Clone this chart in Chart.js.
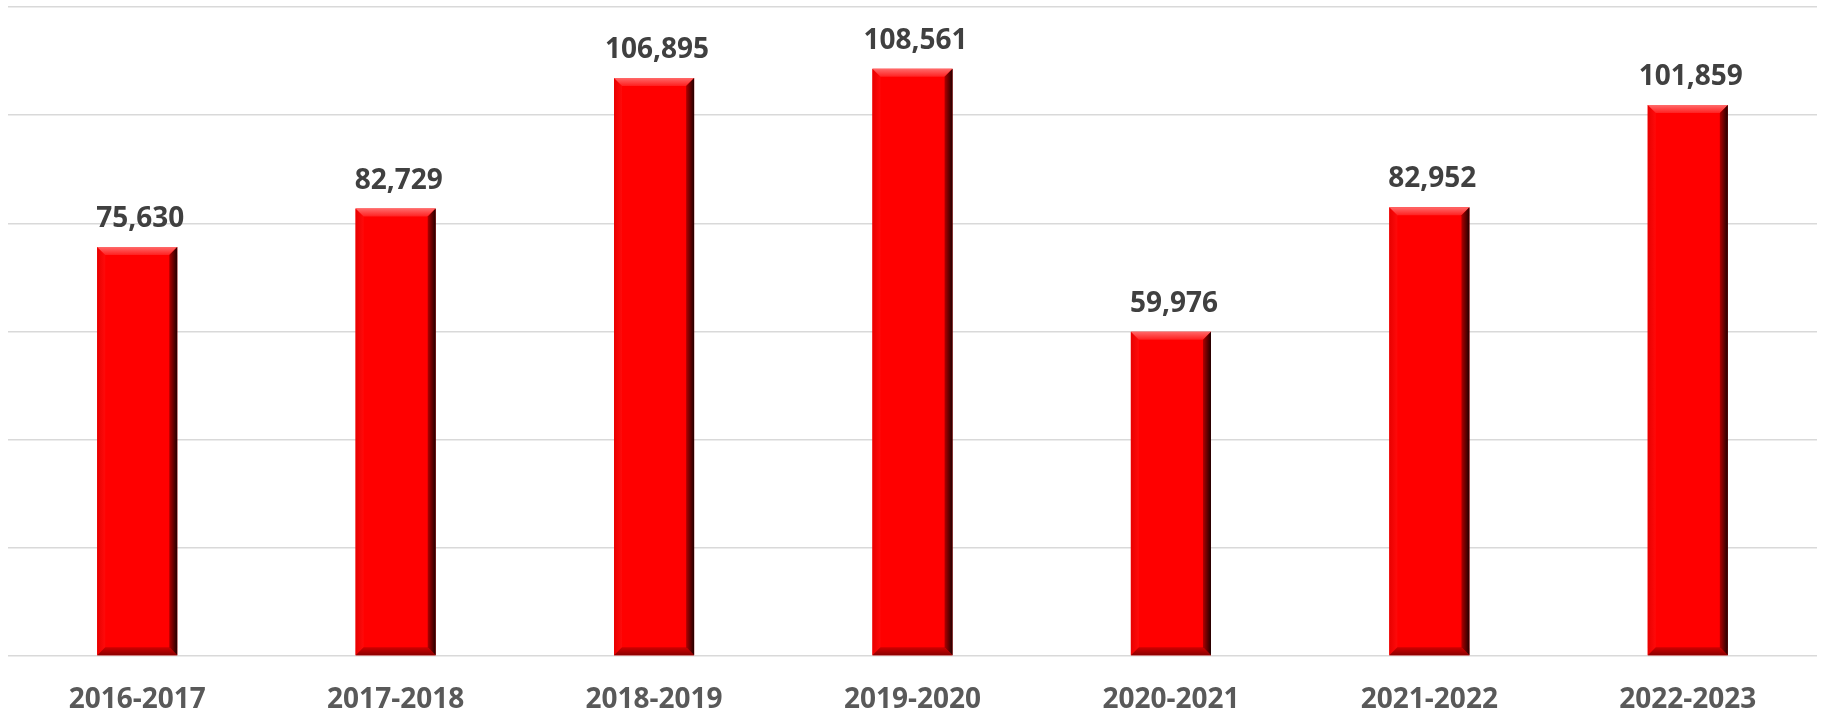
<!DOCTYPE html>
<html>
<head>
<meta charset="utf-8">
<script src="https://cdn.jsdelivr.net/npm/chart.js@4"></script>
<style>
  html, body { margin: 0; padding: 0; background: #ffffff; }
  #wrap { width: 1825px; height: 712px; position: relative; }
</style>
</head>
<body>
<div id="wrap"><canvas id="c"></canvas></div>
<script>
const categories = ['2016-2017', '2017-2018', '2018-2019', '2019-2020', '2020-2021', '2021-2022', '2022-2023'];
const values = [75630, 82729, 106895, 108561, 59976, 82952, 101859];
const yTicks = [0, 20000, 40000, 60000, 80000, 100000, 120000];

const FONT = '"Open Sans", "Liberation Sans", sans-serif';

const bevelPlugin = {
  id: 'bevel',
  afterDatasetsDraw(chart) {
    const ctx = chart.ctx;
    const meta = chart.getDatasetMeta(0);
    meta.data.forEach((bar, i) => {
      const w = bar.width;
      const l = bar.x - w / 2, r = bar.x + w / 2, t = bar.y, b = bar.base;
      const d = 8;
      ctx.save();
      // left bevel
      let g = ctx.createLinearGradient(l, 0, l + d, 0);
      g.addColorStop(0, '#e80000'); g.addColorStop(1, '#ff0a0a');
      ctx.fillStyle = g;
      ctx.beginPath(); ctx.moveTo(l, t); ctx.lineTo(l + d, t + d); ctx.lineTo(l + d, b - d); ctx.lineTo(l, b); ctx.closePath(); ctx.fill();
      // top bevel
      g = ctx.createLinearGradient(0, t, 0, t + d);
      g.addColorStop(0, '#ff6a6a'); g.addColorStop(1, '#ff2020');
      ctx.fillStyle = g;
      ctx.beginPath(); ctx.moveTo(l, t); ctx.lineTo(r, t); ctx.lineTo(r - d, t + d); ctx.lineTo(l + d, t + d); ctx.closePath(); ctx.fill();
      // bottom bevel
      g = ctx.createLinearGradient(0, b - d, 0, b);
      g.addColorStop(0, '#d00000'); g.addColorStop(1, '#8a0000');
      ctx.fillStyle = g;
      ctx.beginPath(); ctx.moveTo(l, b); ctx.lineTo(r, b); ctx.lineTo(r - d, b - d); ctx.lineTo(l + d, b - d); ctx.closePath(); ctx.fill();
      // right bevel
      g = ctx.createLinearGradient(r - d, 0, r, 0);
      g.addColorStop(0, '#b00000'); g.addColorStop(0.6, '#5a0000'); g.addColorStop(1, '#200000');
      ctx.fillStyle = g;
      ctx.beginPath(); ctx.moveTo(r, t); ctx.lineTo(r, b); ctx.lineTo(r - d, b - d); ctx.lineTo(r - d, t + d); ctx.closePath(); ctx.fill();
      // value label
      ctx.fillStyle = '#404040';
      ctx.font = 'bold 28px ' + FONT;
      ctx.textAlign = 'center';
      ctx.textBaseline = 'alphabetic';
      ctx.fillText(values[i].toLocaleString('en-US'), bar.x + 3, t - 20);
      ctx.restore();
    });
  }
};

function build() {
  new Chart(document.getElementById('c'), {
    type: 'bar',
    data: {
      labels: categories,
      datasets: [{
        data: values,
        backgroundColor: '#ff0000',
        borderWidth: 0,
        barPercentage: 0.31,
        categoryPercentage: 1.0
      }]
    },
    options: {
      responsive: true,
      maintainAspectRatio: false,
      devicePixelRatio: 1,
      animation: false,
      layout: { padding: { top: 7, left: 8, right: 8, bottom: 0 } },
      plugins: { legend: { display: false }, tooltip: { enabled: false } },
      scales: {
        x: {
          grid: { display: false },
          border: { display: false },
          ticks: {
            color: '#595959',
            font: { family: FONT, size: 28, weight: 'bold' },
            padding: 19,
            maxRotation: 0
          },
          afterFit(scale) { scale.height = 56; }
        },
        y: {
          min: 0,
          max: 120000,
          afterBuildTicks(scale) { scale.ticks = yTicks.map(v => ({ value: v })); },
          ticks: { display: false },
          grid: { color: '#d9d9d9', lineWidth: 1.5, drawTicks: false },
          border: { display: false }
        }
      }
    },
    plugins: [bevelPlugin]
  });
}

if (document.fonts && document.fonts.load) {
  document.fonts.load('bold 28px "Open Sans"').then(build, build);
} else {
  build();
}
</script>
</body>
</html>
